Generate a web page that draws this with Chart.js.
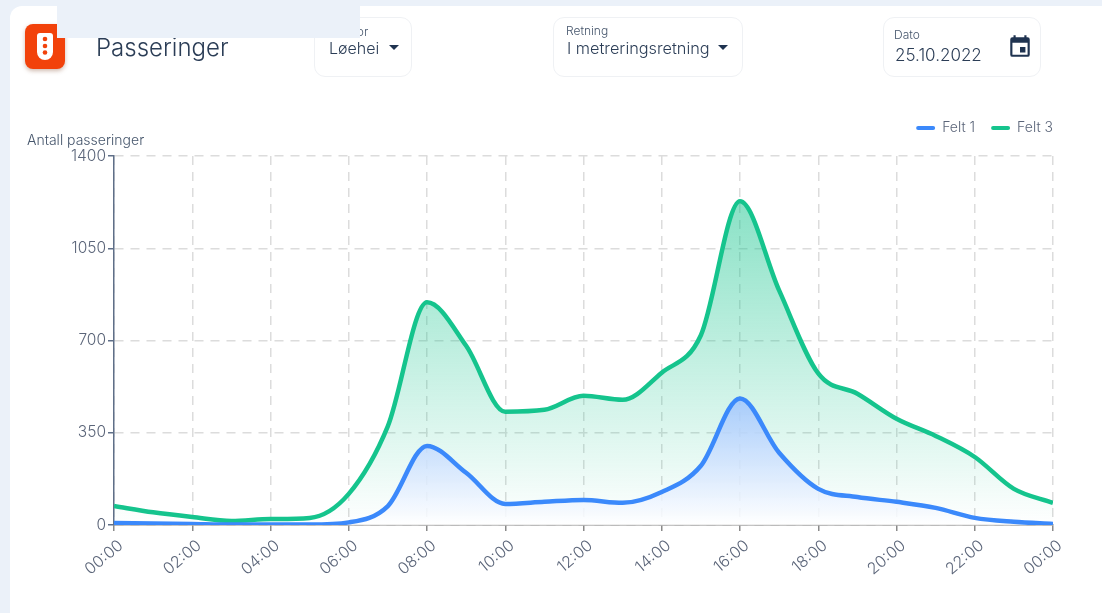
<!DOCTYPE html>
<html lang="no">
<head>
    <meta charset="UTF-8" />
    <title>Passeringer</title>
    <script src="https://cdn.jsdelivr.net/npm/chart.js"></script>
    <style>
        html, body {
            margin: 0;
            width: 1102px;
            height: 613px;
            overflow: hidden;
            background: #ebf1f9;
            font-family: Inter, sans-serif;
            color: #2b3d56;
        }
        .card {
            position: absolute;
            left: 10px;
            top: 6px;
            width: 1112px;
            height: 640px;
            background: #fff;
            border-radius: 12px;
        }
        .mask {
            position: absolute;
            left: 57px;
            top: 0;
            width: 303px;
            height: 38px;
            background: #ebf1f9;
            z-index: 5;
        }
        .icon {
            position: absolute;
            left: 25px;
            top: 24px;
            width: 40px;
            height: 45px;
            background: #f2420b;
            border-radius: 8px;
            box-shadow: 0 2px 4px rgba(120, 60, 30, .35);
        }
        .icon svg { display: block; }
        .title {
            position: absolute;
            left: 96px;
            top: 32px;
            font-size: 24px;
            font-weight: 300;
            line-height: 32px;
        }
        .box {
            position: absolute;
            top: 17px;
            height: 58px;
            border: 1px solid #eff1f4;
            border-radius: 11px;
            background: #fff;
        }
        .box span { position: absolute; white-space: nowrap; }
        .lab { font-size: 12px; font-weight: 300; line-height: 14px; color: #46566c; }
        .val { font-size: 16px; font-weight: 300; line-height: 20px; }
        .caret {
            width: 0;
            height: 0;
            border-left: 5px solid transparent;
            border-right: 5px solid transparent;
            border-top: 5px solid #1f3350;
        }
        .ylab {
            position: absolute;
            left: 27px;
            top: 131px;
            font-size: 14px;
            font-weight: 300;
            line-height: 18px;
            color: #46566c;
            white-space: nowrap;
        }
        canvas { position: absolute; left: 0; top: 0; }
    </style>
</head>
<body>
<div class="card"></div>
<canvas id="chart" width="1102" height="613"></canvas>
<div class="icon">
    <svg width="40" height="45" viewBox="0 0 40 45">
        <path d="M15 9h10a3 3 0 0 1 3 3v16a8 8 0 0 1-16 0V12a3 3 0 0 1 3-3z" fill="#fff" />
        <circle cx="20" cy="15" r="2.3" fill="#f2420b" />
        <circle cx="20" cy="22" r="2.3" fill="#f2420b" />
        <circle cx="20" cy="28.5" r="2.3" fill="#f2420b" />
    </svg>
</div>
<div class="title">Passeringer</div>
<div class="box" style="left:314px;width:96px">
    <span class="lab" style="left:14px;top:7px">Sensor</span>
    <span class="val" style="left:14px;top:20px">Løehei</span>
    <span class="caret" style="left:74px;top:27px"></span>
</div>
<div class="box" style="left:553px;width:188px">
    <span class="lab" style="left:12px;top:6px">Retning</span>
    <span class="val" style="left:13px;top:20px;font-size:16.3px">I metreringsretning</span>
    <span class="caret" style="left:164px;top:27px"></span>
</div>
<div class="box" style="left:883px;width:156px">
    <span class="lab" style="left:10px;top:10px">Dato</span>
    <span class="val" style="left:11px;top:27px;font-size:17px">25.10.2022</span>
    <svg style="position:absolute;left:123px;top:14px" width="26" height="28" viewBox="0 0 24 24">
        <path fill="#1f3350" d="M19 4h-1V2h-2v2H8V2H6v2H5a2 2 0 0 0-2 2v14a2 2 0 0 0 2 2h14a2 2 0 0 0 2-2V6a2 2 0 0 0-2-2zm0 16H5V9h14v11zM12 13h5v5h-5z" />
    </svg>
</div>
<div class="mask"></div>
<div class="ylab">Antall passeringer</div>

<script>
const hours = [0, 1, 2, 3, 4, 5, 6, 7, 8, 9, 10, 11, 12, 13, 14, 15, 16, 17, 18, 19, 20, 21, 22, 23, 24];
const felt1 = [8, 6, 4, 2, 2, 2, 10, 72, 300, 198, 80, 88, 95, 84, 125, 225, 480, 274, 137, 106, 88, 65, 27, 12, 4];
const felt3 = [72, 48, 30, 15, 23, 27, 118, 375, 845, 680, 430, 437, 490, 475, 578, 720, 1228, 890, 575, 498, 403, 338, 258, 137, 84];
const xTickLabels = ['00:00', '02:00', '04:00', '06:00', '08:00', '10:00', '12:00', '14:00', '16:00', '18:00', '20:00', '22:00', '00:00'];
const yTicks = [0, 350, 700, 1050, 1400];

const textColor = '#5b6579';

function fadeFill(topColor, bottomColor) {
    return function (ctx) {
        const chart = ctx.chart;
        if (!chart.chartArea) return 'transparent';
        const top = chart.scales.y.getPixelForValue(Math.max(...ctx.dataset.data.map(p => p.y)));
        const g = chart.ctx.createLinearGradient(0, top, 0, chart.chartArea.bottom);
        g.addColorStop(0, topColor);
        g.addColorStop(1, bottomColor);
        return g;
    };
}

function points(values) {
    return values.map((v, i) => ({ x: hours[i], y: v }));
}

// legenden trenger litt luft under seg, og skal slutte helt ute ved grafens hoyre kant
const legendGap = {
    id: 'legendGap',
    beforeInit(chart) {
        const fit = chart.legend.fit;
        chart.legend.fit = function () {
            fit.call(this);
            this.height += 11;
        };
    },
    afterLayout(chart) {
        chart.legend.right += 16;
    }
};

new Chart(document.getElementById('chart'), {
    type: 'line',
    data: {
        datasets: [
            {
                label: 'Felt 1',
                data: points(felt1),
                borderColor: '#3b89fb',
                backgroundColor: fadeFill('rgba(160,197,254,0.85)', 'rgba(255,255,255,0.85)'),
                borderWidth: 4.5,
                cubicInterpolationMode: 'monotone',
                fill: 'origin',
                pointRadius: 0
            },
            {
                label: 'Felt 3',
                data: points(felt3),
                borderColor: '#15c48d',
                backgroundColor: fadeFill('rgba(21,196,141,0.5)', 'rgba(21,196,141,0)'),
                borderWidth: 4.5,
                cubicInterpolationMode: 'monotone',
                fill: 'origin',
                pointRadius: 0
            }
        ]
    },
    options: {
        responsive: false,
        animation: false,
        layout: { padding: { top: 105, right: 49, left: 0, bottom: 0 } },
        plugins: {
            tooltip: { enabled: false },
            legend: {
                position: 'top',
                align: 'end',
                labels: {
                    boxWidth: 19,
                    boxHeight: 4,
                    useBorderRadius: true,
                    borderRadius: 2,
                    padding: 16,
                    color: textColor,
                    font: { family: 'Inter', size: 14, weight: 300 },
                    generateLabels(chart) {
                        return Chart.defaults.plugins.legend.labels.generateLabels(chart).map(item => {
                            item.fillStyle = item.strokeStyle;
                            item.lineWidth = 0;
                            return item;
                        });
                    }
                }
            }
        },
        scales: {
            x: {
                type: 'linear',
                min: 0,
                max: 24,
                afterBuildTicks(scale) {
                    scale.ticks = xTickLabels.map((_, i) => ({ value: i * 2 }));
                },
                afterFit(scale) {
                    scale.height = 88;
                },
                grid: { color: '#dcdcdc', lineWidth: 1.5, tickColor: '#8a8a8a', tickLength: 6 },
                border: { color: '#8a8a8a', width: 1.5, dash: [9, 7] },
                ticks: {
                    autoSkip: false,
                    minRotation: 40,
                    maxRotation: 40,
                    labelOffset: 7,
                    padding: 5,
                    color: textColor,
                    font: { family: 'Inter', size: 16, weight: 300 },
                    callback: (v) => xTickLabels[v / 2]
                }
            },
            y: {
                min: 0,
                max: 1400,
                afterBuildTicks(scale) {
                    scale.ticks = yTicks.map(v => ({ value: v }));
                },
                afterFit(scale) {
                    scale.width = 114;
                },
                grid: { color: '#dcdcdc', lineWidth: 1.5, tickColor: '#5f6f88', tickLength: 6 },
                border: { color: '#5f6f88', width: 1.5, dash: [9, 7] },
                ticks: {
                    padding: 2,
                    color: textColor,
                    font: { family: 'Inter', size: 15.5, weight: 300 },
                    callback: (v) => String(v)
                }
            }
        }
    },
    plugins: [legendGap]
});
</script>
</body>
</html>
